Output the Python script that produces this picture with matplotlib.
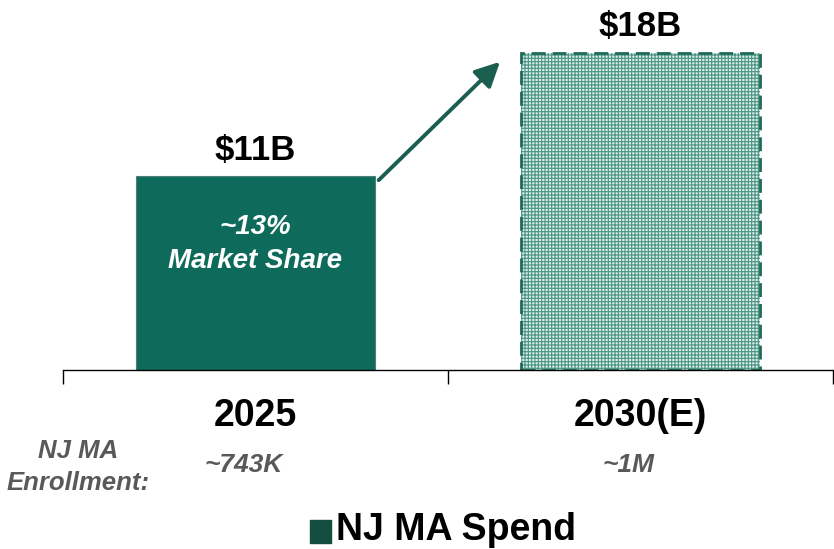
import matplotlib
matplotlib.use("Agg")
from matplotlib import pyplot as plt
from matplotlib import font_manager as fm

# data
years = ["2025", "2030(E)"]
spend = [11, 18]  # $B
spend_labels = ["$11B", "$18B"]
enrollment = ["~743K", "~1M"]
share_note = "~13%\nMarket Share"

names = {f.name for f in fm.fontManager.ttflist}
narrow = "Liberation Sans Narrow" if "Liberation Sans Narrow" in names else "Liberation Sans"
plt.rcParams["font.family"] = [narrow, "DejaVu Sans"]
plt.rcParams["hatch.linewidth"] = 0.8

dark = "#0e6b5c"
fig = plt.figure(figsize=(8.34, 5.49), dpi=100)
ax = fig.add_axes([63 / 834, 1 - 370 / 549, 770 / 834, 340 / 549])

x = [0, 1]
w = 0.62
ax.bar(x[0], spend[0], width=w, color=dark, edgecolor="#4d7f74", linewidth=0.8)
plt.rcParams["hatch.color"] = "#4a9583"
ax.bar(x[1], spend[1], width=w, facecolor="#dcece7", hatch="+++++",
       edgecolor="#4a9583", linewidth=0)
ax.bar(x[1], spend[1], width=w, facecolor="none", edgecolor="#1f6a58",
       linewidth=2, linestyle=(0, (5, 2.5)))

ax.set_xlim(-0.5, 1.5)
ax.set_ylim(0, 18 * 340 / 317)

for s in ["top", "right", "left"]:
    ax.spines[s].set_visible(False)
ax.spines["bottom"].set_linewidth(1)
ax.set_yticks([])
ax.set_xticks([-0.5, 0.5, 1.5])
ax.set_xticklabels([])
ax.tick_params(axis="x", direction="out", length=10, width=1)

# value labels
for xi, v, lab in zip(x, spend, spend_labels):
    ax.annotate(lab, (xi, v), xytext=(0, 7), textcoords="offset points",
                ha="center", va="bottom", fontsize=25, fontweight="bold")

ax.text(x[0], spend[0] * 0.65, share_note, ha="center", va="center",
        color="white", fontsize=20, fontweight="bold", style="italic",
        linespacing=1.4)

# growth arrow
ax.annotate("", xy=(0.635, 17.5), xytext=(w / 2 + 0.01, spend[0] * 0.98),
            arrowprops=dict(arrowstyle="-|>,head_length=1.5,head_width=0.75",
                            color="#1a5e50", lw=2.8, shrinkA=0, shrinkB=0))

# category labels
for xi, yr in zip(x, years):
    ax.text(xi, -0.135, yr, transform=ax.get_xaxis_transform(), ha="center",
            va="center", fontsize=27, fontweight="bold")

gray = "#595959"
fig.text(78 / 834, 1 - 467 / 549, "NJ MA\nEnrollment:", ha="center", va="center",
         color=gray, fontsize=18.5, fontweight="bold", style="italic", linespacing=1.4)
for xi, en in zip(x, enrollment):
    ax.text(xi - 0.03, -0.28, en, transform=ax.get_xaxis_transform(), ha="center",
            va="center", color=gray, fontsize=19, fontweight="bold", style="italic")

# legend
fig.patches.append(plt.Rectangle((310 / 834, 1 - 543 / 549), 21 / 834, 23 / 549,
                                 transform=fig.transFigure, color="#134e40"))
fig.text(336 / 834, 1 - 530 / 549, "NJ MA Spend", ha="left", va="center",
         fontsize=27, fontweight="bold")

fig.savefig("out.png", dpi=100)
